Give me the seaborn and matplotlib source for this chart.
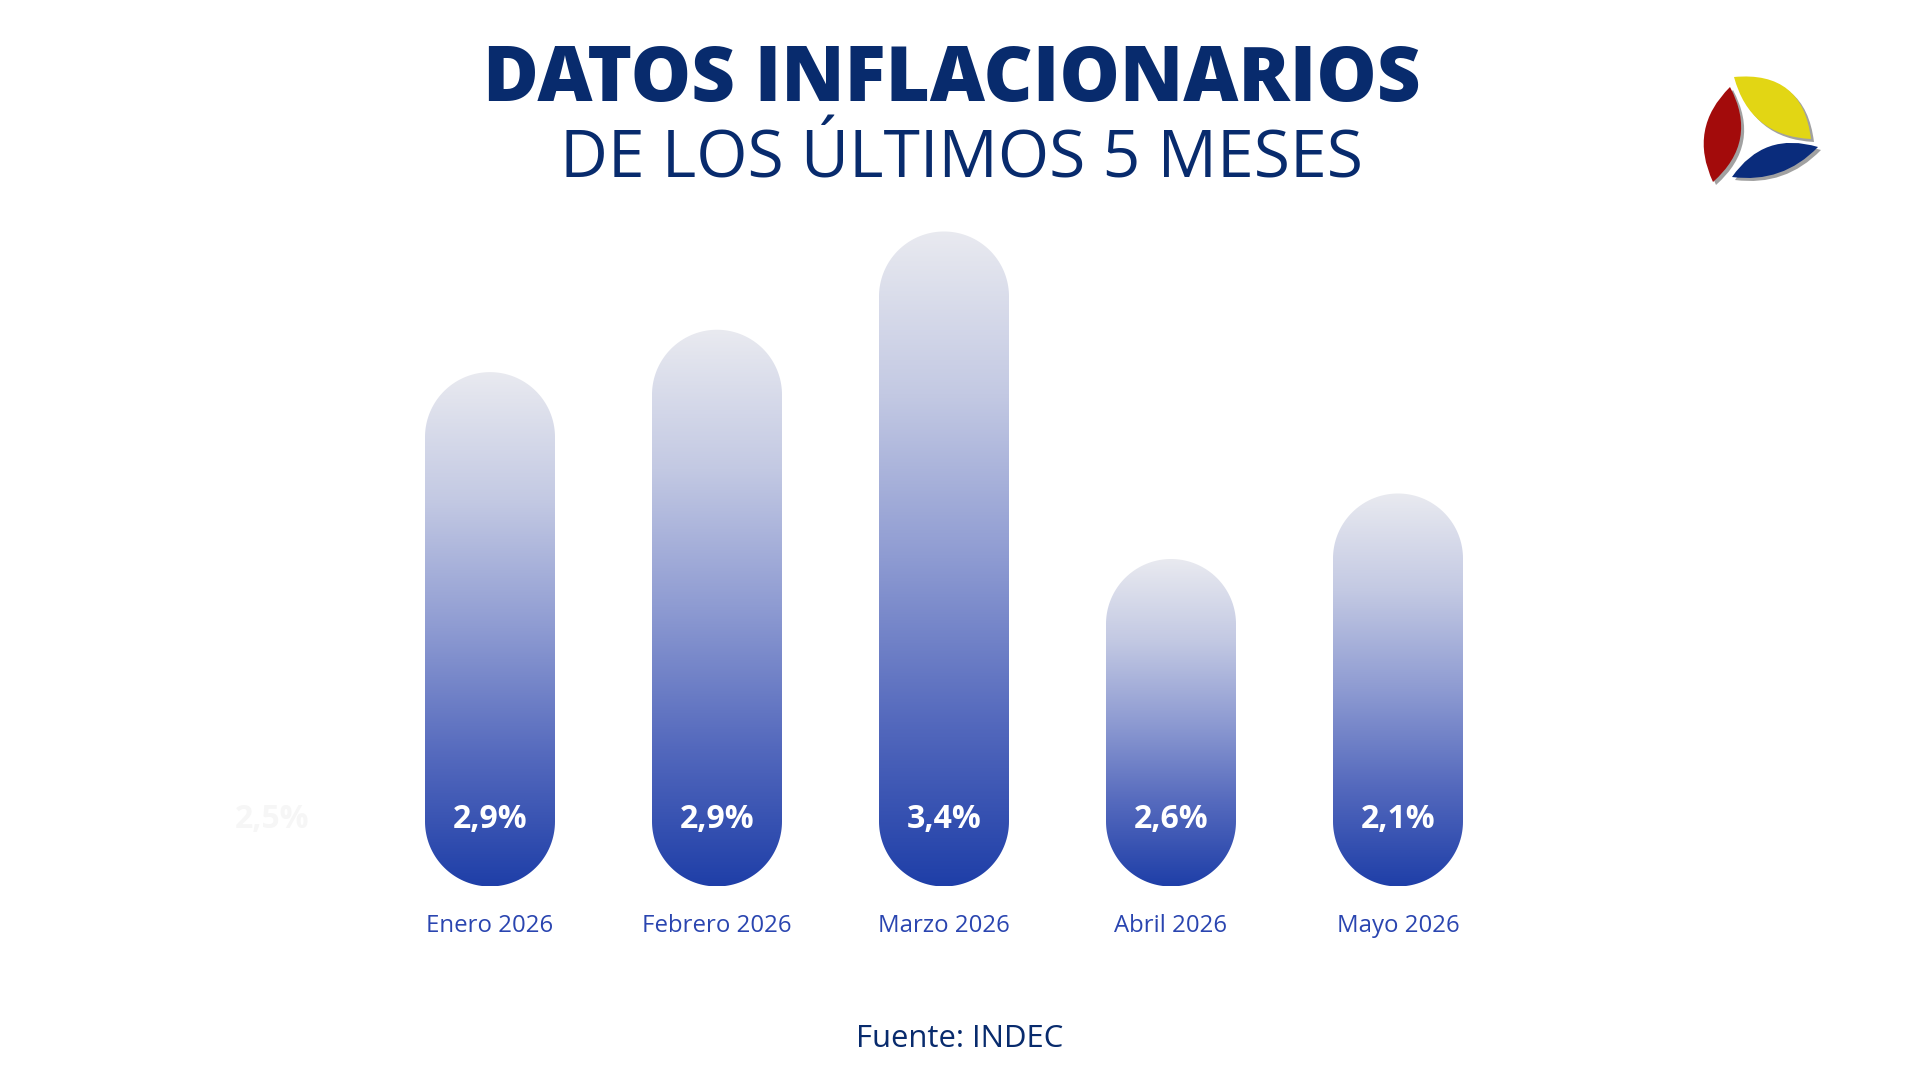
import numpy as np
import pandas as pd
import matplotlib
matplotlib.use("Agg")
import matplotlib.pyplot as plt
import seaborn as sns
from matplotlib.path import Path
from matplotlib.patches import PathPatch
from matplotlib.colors import LinearSegmentedColormap

# ---------------- data ----------------
months = ["Enero 2026", "Febrero 2026", "Marzo 2026", "Abril 2026", "Mayo 2026"]
inflation = [2.9, 2.9, 3.4, 2.6, 2.1]              # monthly inflation (%)
bar_lengths = [2.67, 2.89, 3.40, 1.70, 2.04]       # bar lengths as drawn in the graphic
ghost_label = "2,5%"
title_text = "DATOS INFLACIONARIOS"
subtitle_text = "DE LOS ÚLTIMOS 5 MESES"
source_text = "Fuente: INDEC"

# ---------------- style ----------------
W, H, DPI = 1920, 1080, 72
sns.set_theme(style="white")
plt.rcParams['font.family'] = ['Open Sans', 'DejaVu Sans']

NAVY = "#082b6d"
BAR_BLUE = "#1f3fa8"
LABEL_BLUE = "#2a45b0"
grad_cmap = LinearSegmentedColormap.from_list(
    "bar_grad", ["#1f3fa8", "#5469bd", "#8e9bd2", "#c3c9e3", "#e9eaf0"])

fig = plt.figure(figsize=(W / DPI, H / DPI), dpi=DPI, facecolor="white")

# main axes (bars)
ax = fig.add_axes([263 / W, 193.5 / H, 1362 / W, 770.6 / H])
ax.set_facecolor("none")
df = pd.DataFrame({"mes": months, "altura": bar_lengths, "inflacion": inflation})
sns.barplot(data=df, x="mes", y="altura", ax=ax, width=130 / 227,
            color=BAR_BLUE, saturation=1)
ax.set_xlim(-1, 5)
ax.set_ylim(0, 4)

# pixel/data aspect for true circular caps
p0 = ax.transData.transform((0, 0))
px_x = ax.transData.transform((1, 0))[0] - p0[0]
px_y = ax.transData.transform((0, 1))[1] - p0[1]

grad = np.linspace(0, 1, 512).reshape(-1, 1)
for patch, val in zip(list(ax.patches), df["inflacion"]):
    x0, w, h = patch.get_x(), patch.get_width(), patch.get_height()
    patch.set_visible(False)
    xc = x0 + w / 2
    rx = w / 2
    ry = rx * px_x / px_y
    t_top = np.linspace(0, np.pi, 80)
    t_bot = np.linspace(np.pi, 2 * np.pi, 80)
    xs = np.concatenate([xc + rx * np.cos(t_top), xc + rx * np.cos(t_bot)])
    ys = np.concatenate([h - ry + ry * np.sin(t_top), ry + ry * np.sin(t_bot)])
    verts = np.column_stack([xs, ys])
    verts = np.vstack([verts, verts[:1]])
    codes = [Path.MOVETO] + [Path.LINETO] * (len(verts) - 2) + [Path.CLOSEPOLY]
    shape = PathPatch(Path(verts, codes), facecolor="none", edgecolor="none",
                      transform=ax.transData)
    ax.add_patch(shape)
    im = ax.imshow(grad, extent=(x0, x0 + w, 0, h), origin="lower",
                   cmap=grad_cmap, aspect="auto", zorder=2, interpolation="bicubic")
    im.set_clip_path(shape)
    ax.annotate(f"{val:.1f}%".replace(".", ","), xy=(xc, 0), xytext=(0, 58),
                textcoords="offset points", ha="center", va="baseline",
                color="white", fontsize=32, fontweight="bold", zorder=5)

ax.set_xlim(-1, 5)
ax.set_ylim(0, 4)
for s in ax.spines.values():
    s.set_visible(False)
ax.set_yticks([])
ax.set_xlabel("")
ax.set_ylabel("")
ax.tick_params(axis="x", length=0, pad=27, labelsize=24, labelcolor=LABEL_BLUE)

# faint ghost label at left
fig.text(272 / W, (H - 828) / H, ghost_label, ha="center", va="baseline",
         fontsize=32, fontweight="bold", color="#f6f6f6")

# titles
fig.text(952 / W, (H - 101) / H, title_text, ha="center", va="baseline",
         fontsize=76, fontweight="heavy", color=NAVY)
fig.text(961 / W, (H - 177) / H, subtitle_text, ha="center", va="baseline",
         fontsize=66, fontweight="normal", color=NAVY)
fig.text(959.5 / W, (H - 1047) / H, source_text, ha="center", va="baseline",
         fontsize=31, color=NAVY)

# ---------------- logo ----------------
lax = fig.add_axes([0, 0, 1, 1], zorder=10)
lax.set_xlim(0, W)
lax.set_ylim(H, 0)
lax.axis("off")
lax.set_facecolor("none")


def leaf(a, b, k1, k2):
    a = np.array(a, float)
    b = np.array(b, float)
    m = (a + b) / 2
    d = b - a
    n = np.array([d[1], -d[0]]) / np.hypot(*d)
    c1 = m + n * k1
    c2 = m - n * k2
    verts = [a, c1, b, c2, a, a]
    codes = [Path.MOVETO, Path.CURVE3, Path.CURVE3, Path.CURVE3, Path.CURVE3, Path.CLOSEPOLY]
    return Path(verts, codes)


leaves = [
    (leaf((1730, 87), (1713, 182), 38, 34), "#a30b0b"),
    (leaf((1734, 77), (1811, 139), 48, 36), "#e2d614"),
    (leaf((1732, 177), (1818, 147), 33, 23), "#0a2c7c"),
]
for pth, col in leaves:
    sh = PathPatch(pth, facecolor="#444444", edgecolor="none", alpha=0.5)
    sh.set_transform(lax.transData + matplotlib.transforms.ScaledTranslation(3 / DPI, -3 / DPI, fig.dpi_scale_trans))
    lax.add_patch(sh)
    lax.add_patch(PathPatch(pth, facecolor=col, edgecolor="none"))

fig.savefig("out.png", dpi=DPI, facecolor="white")
